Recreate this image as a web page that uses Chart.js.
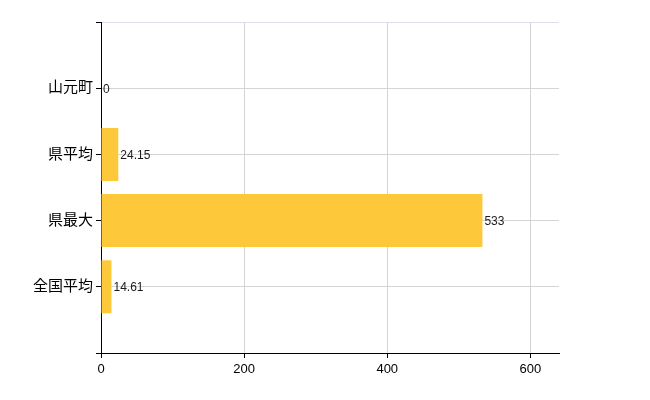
<!DOCTYPE html>
<html>
<head>
<meta charset="utf-8">
<script src="https://cdn.jsdelivr.net/npm/chart.js@4"></script>
<style>
  body { margin: 0; background: #fff; }
  #wrap { width: 650px; height: 400px; }
</style>
</head>
<body>
<div id="wrap"><canvas id="bar"></canvas></div>
<script>
// categories (blank slots at both ends keep the spacing of the original)
var categories = ['', '山元町', '県平均', '県最大', '全国平均', ''];
var values = [null, 0, 24.15, 533, 14.61, null];
var valueLabels = ['', '0', '24.15', '533', '14.61', ''];
var xTicks = [0, 200, 400, 600];

var FONT = "'Liberation Sans', 'Noto Sans CJK JP', sans-serif";

var barLabels = {
  id: 'barLabels',
  afterDatasetsDraw: function(chart) {
    var ctx = chart.ctx;
    var meta = chart.getDatasetMeta(0);
    ctx.save();
    ctx.font = '12px ' + FONT;
    ctx.fillStyle = '#1a1a1a';
    ctx.textBaseline = 'middle';
    ctx.textAlign = 'left';
    meta.data.forEach(function(bar, i) {
      if (values[i] === null) return;
      ctx.fillText(valueLabels[i], bar.x + 2, bar.y + 1);
    });
    ctx.restore();
  }
};

function printBarChart() {
  var ctx = document.getElementById('bar');
  new Chart(ctx, {
    type: 'bar',
    data: {
      labels: categories,
      datasets: [{
        data: values,
        backgroundColor: '#fdc83a',
        borderWidth: 0,
        barPercentage: 0.8,
        categoryPercentage: 1
      }]
    },
    options: {
      indexAxis: 'y',
      responsive: true,
      maintainAspectRatio: false,
      animation: false,
      layout: { padding: { top: 22, right: 91, bottom: 0, left: 0 } },
      plugins: { legend: { display: false }, tooltip: { enabled: false } },
      scales: {
        x: {
          min: 0,
          max: 640,
          afterFit: function(s) { s.height = 47; },
          afterBuildTicks: function(s) {
            s.ticks = xTicks.map(function(v) { return { value: v }; });
          },
          ticks: { includeBounds: false, color: '#000', font: { size: 13, family: FONT }, padding: 4 },
          grid: {
            color: function(c) { return c.tick && c.tick.value === 0 ? 'rgba(0,0,0,0)' : '#d4d4d4'; },
            tickColor: '#000',
            tickLength: 5
          },
          border: { color: '#000', width: 1 }
        },
        y: {
          offset: false,
          afterFit: function(s) { s.width = 101; },
          ticks: { color: '#000', font: { size: 15, family: FONT }, padding: 3 },
          grid: {
            offset: false,
            color: function(c) { return c.index === 0 ? '#e4dcec' : '#d2d6d2'; },
            tickColor: '#000',
            tickLength: 5
          },
          border: { color: '#000', width: 1 }
        }
      }
    },
    plugins: [barLabels]
  });
}

printBarChart();
</script>
</body>
</html>
